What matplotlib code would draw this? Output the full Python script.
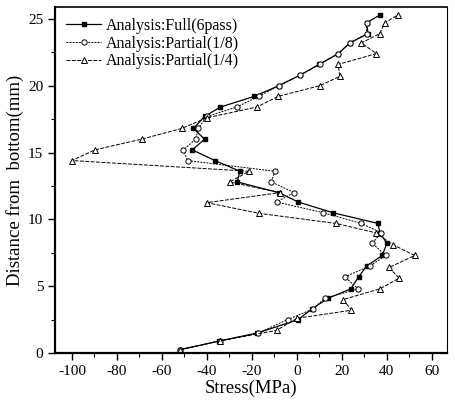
import numpy as np
from matplotlib import pyplot as plt

plt.rcParams['font.family'] = 'Liberation Serif'
plt.rcParams['axes.unicode_minus'] = False

# Analysis: Full (6pass)
y_full = [0.25, 0.9, 1.5, 2.5, 3.3, 4.1, 4.8, 5.7, 6.5, 7.3, 8.2, 9.0, 9.7, 10.5, 11.3, 12.0,
          12.8, 13.6, 14.4, 15.2, 16.0, 16.8, 17.7, 18.4, 19.2, 20.0, 20.8, 21.6, 22.4, 23.2,
          23.9, 24.7, 25.3]
s_full = [-52, -34.5, -17.5, 0.6, 6.7, 14, 24, 27.5, 31, 38, 40, 37, 36, 16, 0.6, -8,
          -26.5, -25.3, -36.4, -46.5, -41, -46, -41, -34, -19, -8, 1.5, 10, 18.4, 23.6,
          31.7, 31, 37]

# Analysis: Partial (1/8)
y_p8 = [0.25, 0.9, 1.5, 2.5, 3.3, 4.1, 4.8, 5.7, 6.5, 7.3, 8.2, 9.0, 9.7, 10.5, 11.3, 12.0,
        12.8, 13.6, 14.4, 15.2, 16.0, 16.8, 17.7, 18.4, 19.2, 20.0, 20.8, 21.6, 22.4, 23.2,
        23.9, 24.7]
s_p8 = [-52, -34.2, -17.2, -4.1, 7.3, 12.4, 27.3, 21.3, 32.4, 39.6, 33.6, 37.5, 28.7, 11.7,
        -9, -1.2, -11.3, -9.8, -48.6, -50.5, -44.9, -43.9, -40, -26.8, -17, -7.9, 1.6, 10.2,
        18.4, 23.6, 31, 31]

# Analysis: Partial (1/4)
y_p4 = [0.25, 0.9, 1.7, 2.6, 3.2, 4.0, 4.8, 5.6, 6.4, 7.3, 8.1, 9.0, 9.7, 10.45, 11.25, 12.0,
        12.8, 13.6, 14.4, 15.2, 16.0, 16.8, 17.6, 18.4, 19.2, 20.0, 20.7, 21.6, 22.4, 23.2,
        23.9, 24.7, 25.3]
s_p4 = [-52, -34.2, -9, 0.1, 24.3, 20.6, 36.9, 45.5, 41, 52.4, 42.8, 35, 17.3, -16.7, -40,
        -7.6, -29.8, -21.2, -100, -89.8, -69, -51.2, -40, -17.9, -8.3, 10.2, 19.1, 18.4, 35.4,
        28.7, 36.9, 39.1, 45]

fig = plt.figure(figsize=(4.55, 4.03), dpi=100)
ax = fig.add_axes([0.121, 0.124, 0.861, 0.859])

ax.plot(s_full, y_full, color='black', lw=0.9, marker='s', ms=3, mfc='black', mec='black',
        label='Analysis:Full(6pass)')
ax.plot(s_p8, y_p8, color='black', lw=0.7, dashes=[2, 1.2], marker='o', ms=3.8, mfc='white',
        mec='black', mew=0.7, label='Analysis:Partial(1/8)')
ax.plot(s_p4, y_p4, color='black', lw=0.7, dashes=[4, 1.5], marker='^', ms=3.8, mfc='white',
        mec='black', mew=0.7, label='Analysis:Partial(1/4)')

ax.set_xlim(-107.5, 66.7)
ax.set_ylim(0, 25.9)
ax.set_xticks(np.arange(-100, 61, 20))
ax.set_xticks(np.arange(-100, 61, 10), minor=True)
ax.set_yticks(np.arange(0, 26, 5))
ax.set_yticks(np.arange(0, 26, 2.5), minor=True)
ax.tick_params(direction='out', labelsize=11, length=5, width=1)
ax.tick_params(which='minor', direction='out', length=3, width=0.8)
for side in ['left', 'bottom']:
    ax.spines[side].set_linewidth(1.6)
ax.spines['top'].set_linewidth(1.2)
ax.spines['right'].set_linewidth(0.8)

ax.set_xlabel('Stress(MPa)', fontsize=13.5, labelpad=1)
ax.set_ylabel('Distance from  bottom(mm)', fontsize=13.5, labelpad=3)

ax.legend(loc='upper left', frameon=False, fontsize=11.5, handlelength=2.2,
          handletextpad=0.3, labelspacing=0.1, borderaxespad=0.3)

plt.savefig('out.png', dpi=100)
